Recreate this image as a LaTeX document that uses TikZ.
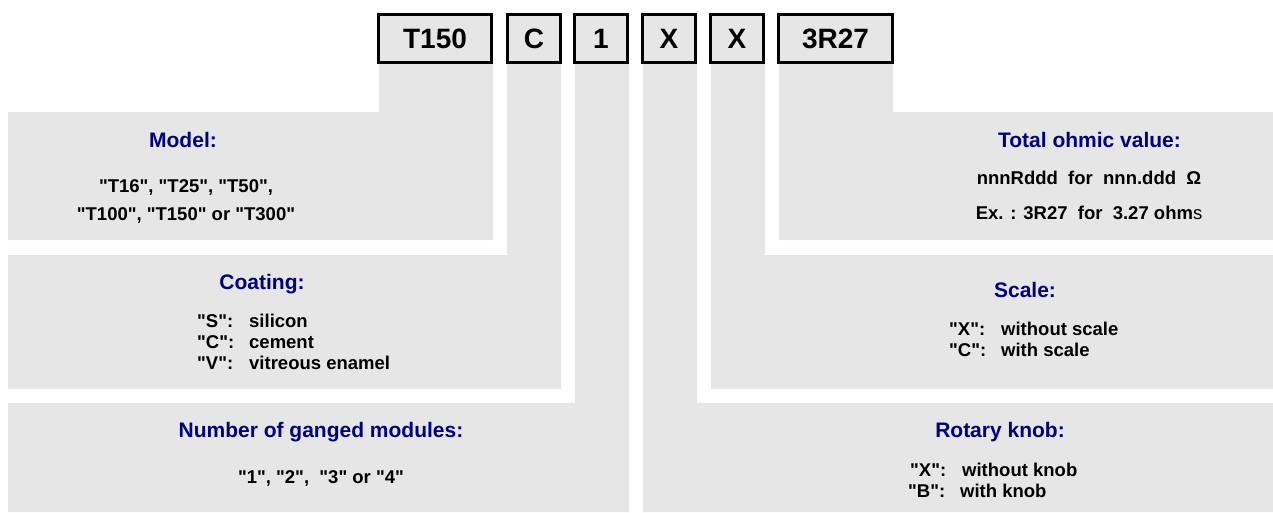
\documentclass[tikz,border=0pt]{standalone}
\usepackage{fontspec}
\setmainfont{Liberation Sans}[Ligatures=TeXOff]
\usetikzlibrary{positioning}
\definecolor{codeGray}{RGB}{230,230,230}
\definecolor{codeNavy}{RGB}{0,0,128}
\tikzset{
  codebox/.style={draw=black, line width=3pt, fill=codeGray, inner sep=0pt,
    minimum height=48pt, font=\fontsize{28}{28}\selectfont\bfseries},
  paneltitle/.style={inner sep=0pt, anchor=base, text=codeNavy,
    font=\fontsize{21}{21}\selectfont\bfseries},
  paneltext/.style={inner sep=0pt, anchor=base,
    font=\fontsize{18.5}{18.5}\selectfont\bfseries},
  panelitem/.style={paneltext, anchor=base west},
}
\newcommand{\itemlabel}[1]{\makebox[52pt][l]{#1}}

\begin{document}
\begin{tikzpicture}[x=1pt, y=-1pt, line join=miter]
    \useasboundingbox (0,0) rectangle (1273,512);
    % grey panels, each with its strip up to the code box
    \fill[codeGray] (8,112) -- (379,112) -- (379,62) -- (493,62) -- (493,240) -- (8,240) -- cycle;
    \fill[codeGray] (8,255) -- (507,255) -- (507,62) -- (561,62) -- (561,389) -- (8,389) -- cycle;
    \fill[codeGray] (8,403) -- (575,403) -- (575,62) -- (629,62) -- (629,512) -- (8,512) -- cycle;
    \fill[codeGray] (643,62) -- (697,62) -- (697,403) -- (1273,403) -- (1273,512) -- (643,512) -- cycle;
    \fill[codeGray] (711,62) -- (765,62) -- (765,255) -- (1273,255) -- (1273,389) -- (711,389) -- cycle;
    \fill[codeGray] (779,62) -- (893,62) -- (893,112) -- (1273,112) -- (1273,240) -- (779,240) -- cycle;

    % code boxes
    \node[codebox, minimum width=113pt] (model) at (435,38.5) {T150};
    \node[codebox, minimum width=53pt] (coat) at (534,38.5) {C};
    \node[codebox, minimum width=53pt] (modules) at (601,38.5) {1};
    \node[codebox, minimum width=53pt] (knob) at (669,38.5) {X};
    \node[codebox, minimum width=53pt] (scale) at (737,38.5) {X};
    \node[codebox, minimum width=114pt] (ohm) at (835.5,38.5) {3R27};

    % left side
    \node[paneltitle] (modelTitle) at (183,147) {Model:};
    \node[paneltext] (modelA) at (186,192) {"T16", "T25", "T50",};
    \node[paneltext] (modelB) at (186,220) {"T100", "T150" or "T300"};

    \node[paneltitle] (coatTitle) at (262,289) {Coating:};
    \node[panelitem] (coatS) at (197,327) {\itemlabel{"S":}silicon};
    \node[panelitem] (coatC) at (197,348) {\itemlabel{"C":}cement};
    \node[panelitem] (coatV) at (197,369) {\itemlabel{"V":}vitreous enamel};

    \node[paneltitle] (modulesTitle) at (321,437) {Number of ganged modules:};
    \node[paneltext] (modulesList) at (321,483) {"1", "2",~ "3" or "4"};

    % right side
    \node[paneltitle] (ohmTitle) at (1089.5,147) {Total ohmic value:};
    \node[paneltext] (ohmA) at (1089,184) {nnnRddd~ for~ nnn.ddd~ Ω};
    \node[paneltext] (ohmB) at (1089,219) {Ex. : 3R27~ for~ 3.27 ohm{\mdseries s}};

    \node[paneltitle] (scaleTitle) at (1025,297) {Scale:};
    \node[panelitem] (scaleX) at (949,335) {\itemlabel{"X":}without scale};
    \node[panelitem] (scaleC) at (949,356) {\itemlabel{"C":}with scale};

    \node[paneltitle] (knobTitle) at (1000,437) {Rotary knob:};
    \node[panelitem] (knobX) at (910,476) {\itemlabel{"X":}without knob};
    \node[panelitem] (knobB) at (908,497) {\itemlabel{"B":}with knob};
\end{tikzpicture}
\end{document}
